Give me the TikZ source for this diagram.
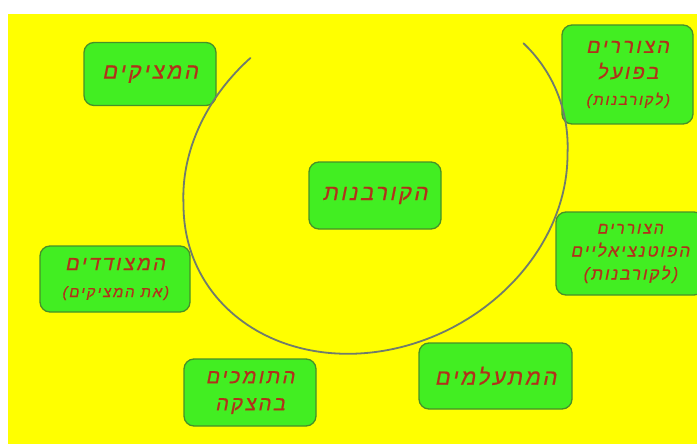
\documentclass[tikz,border=0pt]{standalone}
\usepackage{fontspec}
\TeXXeTstate=1
\newfontfamily\hebfont[Script=Hebrew,FakeSlant=0.2,FakeBold=0.6,LetterSpace=12]{Liberation Sans}
\definecolor{bgyellow}{RGB}{255,255,0}
\definecolor{boxgreen}{RGB}{66,238,34}
\definecolor{boxborder}{RGB}{70,145,40}
\definecolor{txtred}{RGB}{178,48,26}
\definecolor{arcgray}{RGB}{112,124,108}
\tikzset{
  box/.style={draw=boxborder, line width=1.3pt, fill=boxgreen, rounded corners=10pt,
    align=center, text=txtred, inner sep=2pt},
}
\newcommand{\rl}[1]{\beginR #1\endR}
\newcommand{\fs}[2]{\hebfont\fontsize{#1}{#2}\selectfont}
\begin{document}
\begin{tikzpicture}[x=1pt,y=-1pt]
\useasboundingbox (0,0) rectangle (697,444);
\clip (0,0) rectangle (697,444);
\fill[white] (0,0) rectangle (697,444);
\fill[bgyellow] (8,14) rectangle (697,444);

\node[box, minimum width=132pt, minimum height=63pt, font=\fs{22}{26}] (persec) at (150,74)
  {\rl{המציקים}};
\node[box, minimum width=132pt, minimum height=67pt, font=\fs{22}{26}] (victims) at (375,195.5)
  {\rl{הקורבנות}};
\node[box, minimum width=131pt, minimum height=99pt, font=\fs{20}{26}] (actual) at (627.5,74.5)
  {\fs{20}{26}\rl{הצוררים}\\\fs{20}{26}\rl{בפועל}\\\fs{15}{24}\rl{(לקורבנות)}};
\node[box, minimum width=148pt, minimum height=83pt, font=\fs{16}{23}] (potential) at (630,253.5)
  {\fs{16}{23}\rl{הצוררים}\\\fs{17}{23}\rl{הפוטנציאליים}\\\fs{17}{23}\rl{(לקורבנות)}};
\node[box, minimum width=150pt, minimum height=66pt, font=\fs{20}{27}] (siders) at (115,279)
  {\fs{20}{27}\rl{המצודדים}\\\fs{15}{25}\rl{(את המציקים)}};
\node[box, minimum width=132pt, minimum height=67pt, font=\fs{20}{27}] (support) at (250,392.5)
  {\fs{20}{27}\rl{התומכים}\\\fs{20}{27}\rl{בהצקה}};
\node[box, minimum width=153pt, minimum height=66pt, font=\fs{22}{26}] (ignore) at (495.5,376)
  {\rl{המתעלמים}};

\draw[arcgray, line width=1.8pt, line cap=round]
  plot[domain=231:-41.5, samples=120, smooth]
  ({375.5+192*(1+0.045*max(0,-sin(\x)))*cos(\x)},
   {180+(1+0.045*max(0,-sin(\x)))*(172*sin(\x)-25*cos(\x))});
\end{tikzpicture}
\end{document}
